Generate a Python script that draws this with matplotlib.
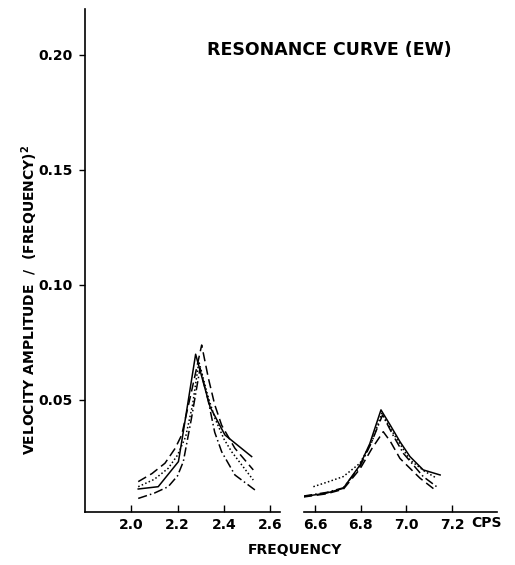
import matplotlib

matplotlib.use("Agg")
import matplotlib.pyplot as plt

# low band (~2.3 cps), four records
lo_solid_f = [2.031, 2.117, 2.204, 2.225, 2.278, 2.34, 2.404, 2.519]
lo_solid_v = [0.0113, 0.0123, 0.0232, 0.0362, 0.0699, 0.047, 0.0348, 0.0254]
lo_dash_f = [2.031, 2.09, 2.146, 2.19, 2.218, 2.26, 2.304, 2.333, 2.36, 2.39, 2.447, 2.526]
lo_dash_v = [0.0145, 0.018, 0.0225, 0.029, 0.0348, 0.0536, 0.0739, 0.0594, 0.048, 0.039, 0.029, 0.0196]
lo_dot_f = [2.031, 2.10, 2.16, 2.20, 2.235, 2.265, 2.292, 2.33, 2.361, 2.40, 2.433, 2.526]
lo_dot_v = [0.0123, 0.0155, 0.0203, 0.026, 0.034, 0.048, 0.0667, 0.052, 0.042, 0.033, 0.0275, 0.0152]
lo_dashdot_f = [2.031, 2.10, 2.16, 2.20, 2.225, 2.26, 2.297, 2.333, 2.36, 2.39, 2.447, 2.533]
lo_dashdot_v = [0.0072, 0.0095, 0.0123, 0.017, 0.0232, 0.042, 0.0638, 0.0493, 0.036, 0.0275, 0.0174, 0.0109]

# high band (~6.9 cps)
hi_solid_f = [6.548, 6.65, 6.724, 6.797, 6.84, 6.889, 6.93, 6.972, 7.016, 7.074, 7.148]
hi_solid_v = [0.008, 0.0095, 0.0116, 0.0217, 0.031, 0.0457, 0.039, 0.0319, 0.0254, 0.0196, 0.0174]
hi_dot_f = [6.593, 6.66, 6.724, 6.797, 6.85, 6.892, 6.94, 7.016, 7.08, 7.133]
hi_dot_v = [0.0123, 0.0145, 0.0167, 0.0225, 0.032, 0.0442, 0.036, 0.0239, 0.019, 0.016]
hi_dash_f = [6.548, 6.65, 6.724, 6.797, 6.85, 6.899, 6.93, 6.972, 7.06, 7.126]
hi_dash_v = [0.0078, 0.0092, 0.0112, 0.020, 0.029, 0.0362, 0.032, 0.0246, 0.016, 0.0109]
hi_dashdot_f = [6.548, 6.65, 6.724, 6.797, 6.845, 6.896, 6.94, 6.987, 7.074, 7.133]
hi_dashdot_v = [0.0082, 0.0098, 0.0118, 0.021, 0.031, 0.0435, 0.035, 0.0268, 0.0167, 0.0123]

lo_ticks = [2.0, 2.2, 2.4, 2.6]
hi_ticks = [6.6, 6.8, 7.0, 7.2]
y_ticks = [0.05, 0.10, 0.15, 0.20]

plt.rcParams["font.family"] = "DejaVu Sans"
plt.rcParams["font.weight"] = "bold"

fig = plt.figure(figsize=(5.15, 5.65), dpi=100)
W, H = 515.0, 565.0
bottom = 1 - 512 / H
height = (512 - 9) / H
ax1 = fig.add_axes([85 / W, bottom, (280 - 85) / W, height])
ax2 = fig.add_axes([304 / W, bottom, (497 - 304) / W, height])

styles = ["-", (0, (6, 3)), (0, (1, 1.5)), (0, (6, 2, 1, 2))]
lo = [(lo_solid_f, lo_solid_v), (lo_dash_f, lo_dash_v), (lo_dot_f, lo_dot_v), (lo_dashdot_f, lo_dashdot_v)]
hi = [(hi_solid_f, hi_solid_v), (hi_dash_f, hi_dash_v), (hi_dot_f, hi_dot_v), (hi_dashdot_f, hi_dashdot_v)]

for ax, series in [(ax1, lo), (ax2, hi)]:
    for (f, v), ls in zip(series, styles):
        ax.plot(f, v, color="black", linestyle=ls, linewidth=1.1)
    ax.set_ylim(0.0013, 0.22)
    for s in ["top", "right"]:
        ax.spines[s].set_visible(False)
    ax.spines["bottom"].set_linewidth(1.2)
    ax.tick_params(axis="x", direction="in", length=5, width=1, labelsize=10, pad=4)

ax1.set_xlim(1.802, 2.641)
ax1.set_xticks(lo_ticks)
ax1.set_xticklabels([f"{t:.1f}" for t in lo_ticks])
ax1.set_yticks(y_ticks)
ax1.set_yticklabels([f"{t:.2f}" for t in y_ticks])
ax1.tick_params(axis="y", direction="out", length=4, width=1, labelsize=10, pad=5)
ax1.spines["left"].set_linewidth(1.2)

ax2.set_xlim(6.552, 7.397)
ax2.set_xticks(hi_ticks)
ax2.set_xticklabels([f"{t:.1f}" for t in hi_ticks])
ax2.spines["left"].set_visible(False)
ax2.set_yticks([])

fig.text(486 / W, 1 - 523 / H, "CPS", ha="center", va="center", fontsize=10, fontweight="bold")
fig.text(295 / W, 1 - 550 / H, "FREQUENCY", ha="center", va="center", fontsize=10, fontweight="bold")
fig.text(30 / W, 1 - 300 / H, "VELOCITY AMPLITUDE  /  (FREQUENCY)$^\\mathbf{2}$",
         ha="center", va="center", rotation=90, fontsize=10, fontweight="bold")
fig.text(329 / W, 1 - 50 / H, "RESONANCE CURVE (EW)", ha="center", va="center",
         fontsize=12.5, fontweight="bold")

fig.savefig("out.png", dpi=100)
